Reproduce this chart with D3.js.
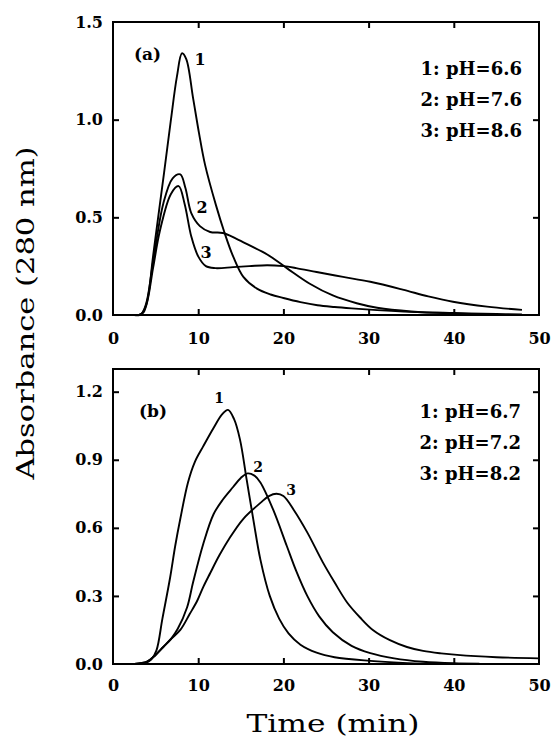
<!DOCTYPE html>
<html><head><meta charset="utf-8">
<script src="https://cdn.jsdelivr.net/npm/d3@7"></script>
<style>body{margin:0;background:#fff}svg{display:block}</style>
</head><body>
<script>
// ---- data ----
const xTicks = [0, 10, 20, 30, 40, 50];
const yTicksA = [0.0, 0.5, 1.0, 1.5];
const yTicksB = [0.0, 0.3, 0.6, 0.9, 1.2];
const legendA = ["1: pH=6.6", "2: pH=7.6", "3: pH=8.6"];
const legendB = ["1: pH=6.7", "2: pH=7.2", "3: pH=8.2"];
const curveLabels = ["1", "2", "3"];

const a1 = [[2.5,0],[3.1,0],[3.6,0.015],[4.1,0.09],[4.7,0.3],[5.3,0.5],[6.0,0.73],[6.8,1.0],[7.5,1.22],[8.1,1.34],[8.6,1.31],[9.4,1.11],[10.1,0.93],[10.8,0.77],[12.1,0.56],[13.1,0.42],[14.1,0.30],[15.3,0.195],[16.9,0.135],[18.5,0.105],[20,0.087],[22,0.066],[24,0.05],[26,0.041],[28,0.034],[31,0.025],[35,0.016],[40,0.01],[45,0.005],[48,0.003]];
const a2 = [[2.5,0],[3.3,0.005],[3.9,0.06],[4.7,0.27],[5.9,0.57],[7.0,0.70],[7.9,0.72],[8.5,0.65],[9.2,0.52],[10.2,0.455],[11.4,0.425],[12.9,0.42],[14.5,0.39],[16.1,0.355],[18.1,0.31],[20.4,0.24],[23.1,0.16],[25.8,0.10],[28.6,0.06],[31,0.037],[35,0.018],[40,0.008],[45,0.003]];
const a3 = [[2.5,0],[3.3,0.005],[3.9,0.05],[4.7,0.24],[5.5,0.43],[6.8,0.62],[7.7,0.66],[8.4,0.57],[9.2,0.40],[10.0,0.30],[10.9,0.25],[12.0,0.24],[14.1,0.245],[16,0.25],[18.1,0.255],[20,0.25],[21.5,0.24],[23.9,0.22],[27,0.195],[30.2,0.17],[34,0.13],[37,0.095],[39.9,0.068],[43.9,0.043],[48,0.026]];

const b1 = [[2.5,0],[3.8,0.003],[4.5,0.02],[5.1,0.06],[5.8,0.2],[6.7,0.38],[7.3,0.52],[7.9,0.64],[8.8,0.80],[9.6,0.89],[10.6,0.96],[11.8,1.04],[12.8,1.10],[13.5,1.12],[14.2,1.08],[14.9,0.99],[15.7,0.81],[16.5,0.63],[17.3,0.46],[18.4,0.30],[19.5,0.20],[20.6,0.135],[22,0.085],[23.9,0.05],[26,0.03],[30.2,0.014],[34,0.005],[37,0.001]];
const b2 = [[2.5,0],[4.0,0.01],[5.0,0.04],[5.9,0.075],[6.8,0.11],[7.6,0.155],[8.7,0.25],[9.4,0.36],[10.6,0.53],[11.8,0.66],[12.9,0.725],[14.1,0.78],[15.0,0.82],[15.8,0.84],[16.6,0.83],[17.3,0.80],[18.8,0.68],[20.4,0.52],[21.5,0.41],[22.8,0.30],[24.2,0.21],[25.8,0.14],[28,0.08],[30.2,0.048],[33,0.025],[36.4,0.01],[40,0.003],[43,0.001]];
const b3 = [[2.5,0],[4.0,0.01],[5.0,0.04],[5.9,0.075],[6.8,0.11],[7.9,0.15],[9.0,0.22],[9.9,0.28],[10.6,0.34],[11.4,0.40],[12.5,0.48],[13.6,0.55],[15.3,0.64],[17.3,0.71],[18.3,0.74],[19.2,0.75],[20.0,0.74],[21.2,0.68],[22.8,0.58],[24.6,0.45],[26,0.36],[27.5,0.27],[29,0.205],[30.5,0.15],[32.5,0.105],[34.5,0.075],[36.4,0.058],[38.5,0.047],[40.4,0.04],[45,0.03],[50,0.025]];

// ---- drawing ----
const W = 559, H = 743;
const svg = d3.select("body").append("svg").attr("width", W).attr("height", H);
const serif = "'DejaVu Serif', serif";

function panel(cfg) {
  const x = d3.scaleLinear().domain([0, 50]).range([113, 539]);
  const y = d3.scaleLinear().domain([0, cfg.ymax]).range([cfg.bottom, cfg.top]);
  const g = svg.append("g");

  const fmt = d3.format(".1f");
  const left = g.append("g").attr("transform", `translate(113,0)`)
    .call(d3.axisLeft(y).tickValues(cfg.yTicks).tickSize(-6).tickPadding(10).tickFormat(fmt));
  const right = g.append("g").attr("transform", `translate(539,0)`)
    .call(d3.axisRight(y).tickValues(cfg.yTicks.filter(v => v > 0 && v < cfg.ymax)).tickSize(-6).tickFormat(""));
  const bottom = g.append("g").attr("transform", `translate(0,${cfg.bottom})`)
    .call(d3.axisBottom(x).tickValues(xTicks).tickSize(-6).tickPadding(cfg.xPad).tickFormat(d3.format("d")));
  const top = g.append("g").attr("transform", `translate(0,${cfg.top})`)
    .call(d3.axisTop(x).tickValues([10, 20, 30, 40]).tickSize(-6).tickFormat(""));
  [left, right, bottom, top].forEach(ax => {
    ax.select(".domain").remove();
    ax.selectAll("line").attr("stroke", "#000").attr("stroke-width", 2);
    ax.selectAll("text").attr("font-family", serif).attr("font-weight", "bold")
      .attr("font-size", 16).attr("fill", "#000");
  });
  left.selectAll(".tick").filter(d => d === 0 || d === cfg.ymax).select("line").remove();
  bottom.selectAll(".tick").filter(d => d === 0 || d === 50).select("line").remove();

  g.append("rect").attr("x", 113).attr("y", cfg.top).attr("width", 426).attr("height", cfg.bottom - cfg.top)
    .attr("fill", "none").attr("stroke", "#000").attr("stroke-width", 2);

  const line = d3.line().x(d => x(d[0])).y(d => y(Math.max(0, d[1]))).curve(d3.curveCatmullRom.alpha(0.5));
  cfg.series.forEach(s => {
    g.append("path").attr("d", line(s)).attr("fill", "none").attr("stroke", "#000")
      .attr("stroke-width", 1.9).attr("stroke-linejoin", "round");
  });

  g.append("text").attr("x", cfg.tag[1]).attr("y", cfg.tag[2]).text(cfg.tag[0])
    .attr("font-family", serif).attr("font-weight", "bold").attr("font-size", 17);

  cfg.legend.forEach((t, i) => {
    g.append("text").attr("x", cfg.legX).attr("y", cfg.legY + i * 31).attr("text-anchor", "end")
      .attr("font-family", serif).attr("font-weight", "bold").attr("font-size", 18).text(t);
  });
  cfg.labelPos.forEach((p, i) => {
    g.append("text").attr("x", p[0]).attr("y", p[1]).attr("text-anchor", "middle")
      .attr("font-family", serif).attr("font-weight", "bold").attr("font-size", cfg.labelSize).text(curveLabels[i]);
  });
}

panel({ ymax: 1.5, top: 22, bottom: 315, yTicks: yTicksA, xPad: 18, series: [a1, a2, a3],
  tag: ["(a)", 134, 60], legend: legendA, legX: 522, legY: 75,
  labelPos: [[200, 65], [202, 213], [206, 258]], labelSize: 16 });
panel({ ymax: 1.3, top: 369, bottom: 664, yTicks: yTicksB, xPad: 16, series: [b1, b2, b3],
  tag: ["(b)", 139, 417], legend: legendB, legX: 521, legY: 418,
  labelPos: [[219, 403], [258, 472], [291, 495]], labelSize: 14 });

svg.append("text").attr("transform", "translate(34,313) rotate(-90)").attr("text-anchor", "middle")
  .attr("font-family", serif).attr("font-size", 24).attr("textLength", 333).attr("lengthAdjust", "spacingAndGlyphs")
  .attr("fill", "#000").text("Absorbance (280 nm)");
svg.append("text").attr("x", 333).attr("y", 732).attr("text-anchor", "middle")
  .attr("font-family", serif).attr("font-size", 24).attr("textLength", 173).attr("lengthAdjust", "spacingAndGlyphs")
  .attr("fill", "#000").text("Time (min)");
</script>
</body></html>
